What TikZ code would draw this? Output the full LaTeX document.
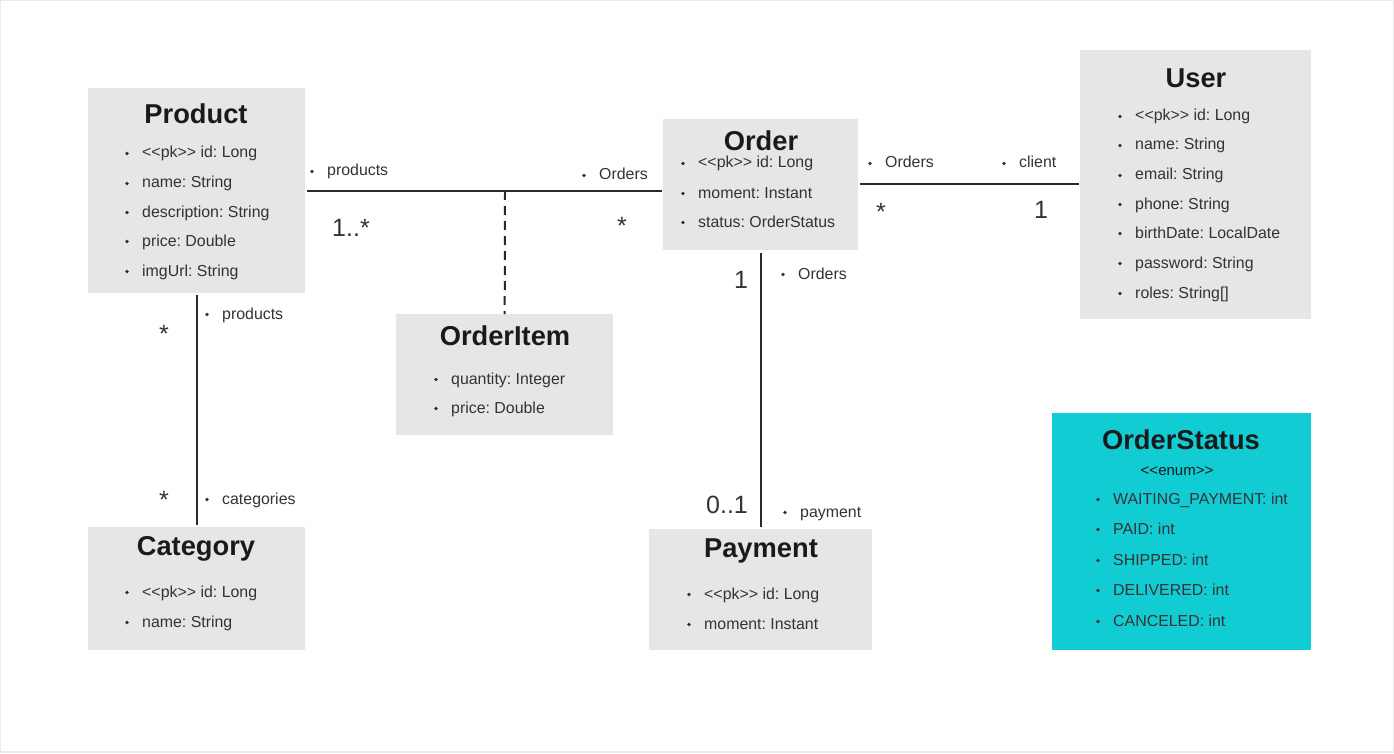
\documentclass[tikz,border=0pt]{standalone}
\usepackage{fontspec}
\setmainfont{Liberation Sans}
\definecolor{boxgray}{HTML}{E6E6E6}
\definecolor{enumcyan}{HTML}{12CCD4}
\definecolor{txt}{HTML}{333333}
\definecolor{ttl}{HTML}{1A1A1A}
\begin{document}
\frenchspacing
\begin{tikzpicture}[x=1pt,y=-1pt,
  cls/.style={fill=boxgray,draw=none,inner sep=0pt,anchor=north west},
  ttlst/.style={font=\fontsize{27.3}{30}\selectfont\bfseries,text=ttl,inner sep=0pt},
  attr/.style={font=\fontsize{15.9}{19}\selectfont,text=txt,inner sep=0pt,anchor=base west},
  mult/.style={font=\fontsize{25}{28}\selectfont,text=txt,inner sep=0pt},
  conn/.style={draw=txt!80!black,line width=2pt},
  bul/.style={fill=txt}
]
\useasboundingbox (0,0) rectangle (1394,754);
\draw[black!8,line width=1.2pt] (0.6,0.6) rectangle (1393.4,752);

% ---------- boxes ----------
\node[cls,minimum width=217pt,minimum height=205pt] (product) at (88,88) {};
\node[cls,minimum width=195pt,minimum height=131pt] (order) at (663,119) {};
\node[cls,minimum width=231pt,minimum height=269pt] (user) at (1080,50) {};
\node[cls,minimum width=217pt,minimum height=121pt] (orderitem) at (396,314) {};
\node[cls,minimum width=217pt,minimum height=123pt] (category) at (88,527) {};
\node[cls,minimum width=223pt,minimum height=121pt] (payment) at (649,529) {};
\node[cls,fill=enumcyan,minimum width=259pt,minimum height=237pt] (orderstatus) at (1052,413) {};

% ---------- titles ----------
\node[ttlst] (tproduct) at (196,114) {Product};
\node[ttlst] (torder) at (761,141) {Order};
\node[ttlst] (tuser) at (1196,78) {User};
\node[ttlst] (torderitem) at (505,336) {OrderItem};
\node[ttlst] (tcategory) at (196,549) {Category};
\node[ttlst] (tpayment) at (761,551) {Payment};
\node[ttlst] (tstatus) at (1181,440) {OrderStatus};
\node[font=\fontsize{15}{17}\selectfont,text=ttl,inner sep=0pt] (enum) at (1177,471) {<{}<enum>{}>};

% ---------- attributes ----------
\newcommand{\attrline}[4]{% name, bullet x, y, text
  \fill[bul] (#2,#3+1.5) circle (1.8pt);
  \node[attr] (#1) at (#2+15,#3+6) {#4};}

\attrline{p1}{127}{152}{<{}<pk>{}> id: Long}
\attrline{p2}{127}{182}{name: String}
\attrline{p3}{127}{211}{description: String}
\attrline{p4}{127}{240}{price: Double}
\attrline{p5}{127}{270}{imgUrl: String}

\attrline{o1}{683}{162}{<{}<pk>{}> id: Long}
\attrline{o2}{683}{192}{moment: Instant}
\attrline{o3}{683}{221}{status: OrderStatus}

\attrline{u1}{1120}{115}{<{}<pk>{}> id: Long}
\attrline{u2}{1120}{144}{name: String}
\attrline{u3}{1120}{174}{email: String}
\attrline{u4}{1120}{203}{phone: String}
\attrline{u5}{1120}{232}{birthDate: LocalDate}
\attrline{u6}{1120}{262}{password: String}
\attrline{u7}{1120}{292}{roles: String[]}

\attrline{i1}{436}{378}{quantity: Integer}
\attrline{i2}{436}{407}{price: Double}

\attrline{c1}{127}{591}{<{}<pk>{}> id: Long}
\attrline{c2}{127}{621}{name: String}

\attrline{y1}{689}{593}{<{}<pk>{}> id: Long}
\attrline{y2}{689}{623}{moment: Instant}

\attrline{s1}{1098}{498}{WAITING\_PAYMENT: int}
\attrline{s2}{1098}{528}{PAID: int}
\attrline{s3}{1098}{559}{SHIPPED: int}
\attrline{s4}{1098}{589}{DELIVERED: int}
\attrline{s5}{1098}{620}{CANCELED: int}

% ---------- connectors ----------
\coordinate (po) at (505,191);
\draw[conn] (product.east|-po) ++(2,0) -- ([xshift=-1pt]order.west|-po);
\draw[conn,dashed,dash pattern=on 9pt off 6pt] (po) -- (orderitem.north);
\draw[conn] ([xshift=2pt]order.east|-0,184) -- ([xshift=-1pt]user.west|-0,184);
\draw[conn] ([yshift=-2pt]product.south-|197,0) -- ([yshift=2pt]category.north-|197,0);
\draw[conn] ([yshift=-3pt]order.south) -- ([yshift=2pt]payment.north-|order.south);

% ---------- role labels ----------
\attrline{r1}{312}{170}{products}
\attrline{r2}{584}{174}{Orders}
\attrline{r3}{870}{162}{Orders}
\attrline{r4}{1004}{162}{client}
\attrline{r5}{783}{273}{Orders}
\attrline{r6}{785}{511}{payment}
\attrline{r7}{207}{313}{products}
\attrline{r8}{207}{498}{categories}

% ---------- multiplicities ----------
\node[mult] (m1) at (351,228) {1..*};
\node[mult] (m2) at (622,226) {*};
\node[mult] (m3) at (881,212) {*};
\node[mult] (m4) at (1041,210) {1};
\node[mult] (m5) at (741,280) {1};
\node[mult] (m6) at (727,505) {0..1};
\node[mult] (m7) at (164,334) {*};
\node[mult] (m8) at (164,500) {*};
\end{tikzpicture}
\end{document}
